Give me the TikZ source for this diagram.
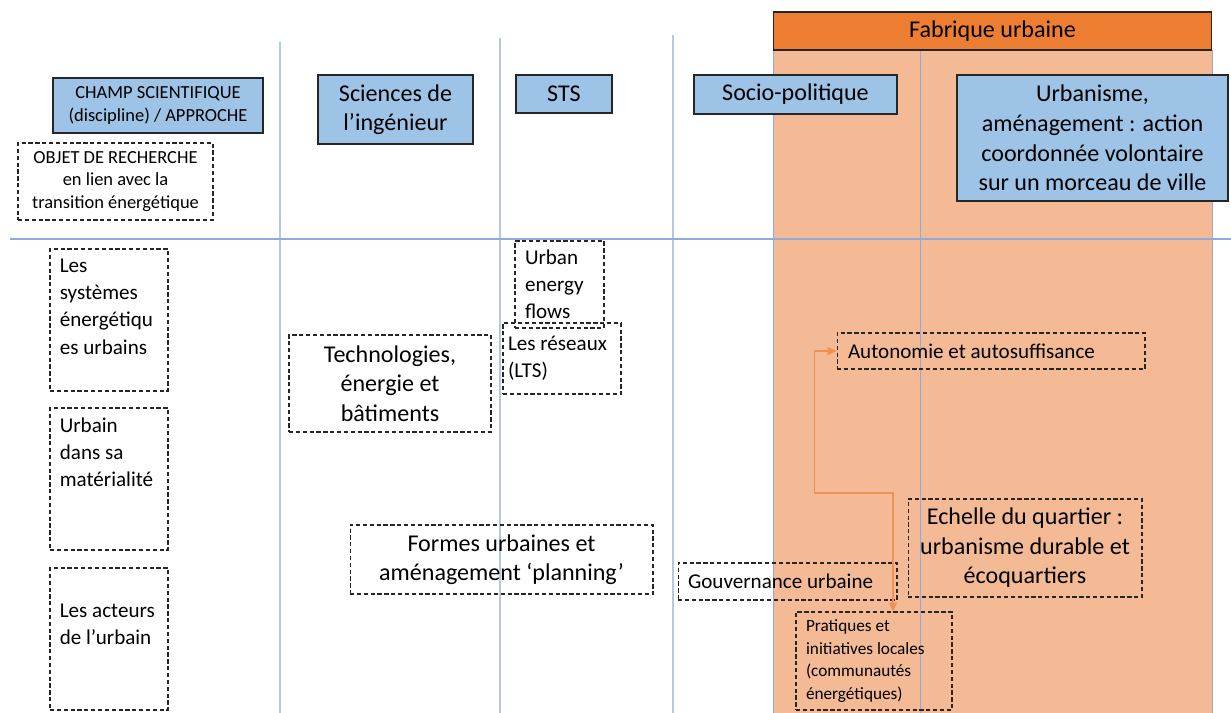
\documentclass[tikz,border=0pt]{standalone}
\usepackage{fontspec}
\setmainfont{Carlito}
\usetikzlibrary{arrows.meta}
\definecolor{bleuchamp}{RGB}{157,195,230}
\definecolor{orangefab}{RGB}{237,125,49}
\definecolor{orangeclair}{RGB}{244,186,149}
\definecolor{grille}{RGB}{143,170,220}
\definecolor{grilleclair}{RGB}{180,199,231}
\newcommand{\grand}{\fontsize{13.7}{16.8}\selectfont}
\newcommand{\moyen}{\fontsize{12}{15.5}\selectfont}
\newcommand{\petit}{\fontsize{10.5}{13}\selectfont}
\newcommand{\mini}{\fontsize{9.8}{13}\selectfont}

\begin{document}
\begin{tikzpicture}[x=0.02cm,y=-0.02cm,
    trait/.style={grilleclair,line width=0.6pt},
    champ/.style={draw=black!85,line width=0.7pt,fill=bleuchamp,inner sep=0pt,align=center,font=\grand},
    objet/.style={draw=black!85,dash pattern=on 2.4pt off 1.5pt,line width=0.6pt,inner sep=0pt},
    fleche/.style={orangefab!85,line width=0.6pt,<->,>={Triangle[length=5pt,width=4.5pt]}}]
        \useasboundingbox (0,0) rectangle (1231,713);
        \fill[orangeclair] (773,50) rectangle (1212,713);
        \draw[trait] (280,42) -- (280,713);
        \draw[trait] (500,38) -- (500,713);
        \draw[trait] (673,35) -- (673,713);
        \draw[grille,line width=0.5pt] (773,50) -- (773,713);
        \draw[grille,line width=0.5pt] (920,50) -- (920,713);
        \draw[grille,line width=0.5pt] (1212,50) -- (1212,713);
        \draw[grille,line width=0.6pt] (10,239) -- (1231,239);
        \node[draw=black!85,line width=0.6pt,fill=orangefab,inner sep=0pt,minimum width=8.78cm,minimum height=0.76cm,font=\grand] (fab) at (992.5,31) {Fabrique urbaine};

        \node[champ,minimum width=4.2cm,minimum height=1.1cm,font=\petit] (champ) at (158,105.5) {CHAMP SCIENTIFIQUE\\(discipline) / APPROCHE};
        \node[champ,minimum width=3.1cm,minimum height=1.38cm] (sci) at (395.5,109.5) {Sciences de\\l’ingénieur};
        \node[champ,minimum width=1.92cm,minimum height=0.76cm] (sts) at (564,94) {STS};
        \node[champ,minimum width=4.06cm,minimum height=0.78cm] (socio) at (795.5,94.5) {Socio-politique};
        \node[champ,minimum width=5.42cm,minimum height=2.52cm] (urba) at (1092.5,138) {Urbanisme,\\aménagement : action\\coordonnée volontaire\\sur un morceau de ville};

        \node[objet,minimum width=3.9cm,minimum height=1.54cm,align=center,font=\petit] (rech) at (115.5,181.5) {OBJET DE RECHERCHE\\en lien avec la\\transition énergétique};

        \node[objet,minimum width=2.36cm,minimum height=2.84cm] (sys) at (109,320) {};
        \node[anchor=north west,align=flush left,font=\moyen,inner sep=0pt] (sys-t) at ([xshift=0.2cm,yshift=-0.2cm]sys.north west) {Les\\systèmes\\énergétiqu\\es urbains};
        \node[objet,minimum width=2.36cm,minimum height=2.84cm] (mat) at (109,479) {};
        \node[anchor=north west,align=flush left,font=\moyen,inner sep=0pt] (mat-t) at ([xshift=0.2cm,yshift=-0.2cm]mat.north west) {Urbain\\dans sa\\matérialité};
        \node[objet,minimum width=2.36cm,minimum height=2.84cm] (act) at (109,639) {};
        \node[anchor=west,align=flush left,font=\moyen,inner sep=0pt] (act-t) at ([xshift=0.2cm,yshift=0.3cm]act.west) {Les acteurs\\de l’urbain};

        \node[objet,minimum width=4.04cm,minimum height=1.94cm,align=center,font=\grand] (techno) at (390,383.5) {Technologies,\\énergie et\\bâtiments};
        \node[objet,minimum width=1.78cm,minimum height=1.74cm,text width=1.38cm,align=flush left,font=\moyen] (flux) at (559.5,284.5) {Urban\\energy\\flows};
        \node[objet,minimum width=2.36cm,minimum height=1.42cm,text width=2.16cm,align=flush left,font=\moyen] (res) at (562,358.5) {Les réseaux\\(LTS)};
        \node[objet,minimum width=6.06cm,minimum height=1.38cm,align=center,font=\grand] (formes) at (501.5,559.5) {Formes urbaines et\\aménagement ‘planning’};
        \node[objet,minimum width=4.38cm,minimum height=0.74cm,text width=3.98cm,align=flush left,font=\moyen] (gouv) at (787.5,581.5) {Gouvernance urbaine};
        \node[objet,minimum width=6.16cm,minimum height=0.72cm,text width=5.72cm,align=flush left,font=\moyen] (auto) at (991,351) {Autonomie et autosuffisance};
        \node[objet,minimum width=4.68cm,minimum height=1.96cm,align=center,font=\grand] (echelle) at (1025,548) {Echelle du quartier :\\urbanisme durable et\\écoquartiers};
        \node[objet,minimum width=3.12cm,minimum height=1.96cm,text width=2.72cm,align=flush left,font=\mini] (prat) at (874,661) {Pratiques et\\initiatives locales\\(communautés\\énergétiques)};

        \coordinate (coude) at (893,493);
        \draw[fleche] (auto.west) -- ++(-22,0) |- (coude) -- (coude |- prat.north);
\end{tikzpicture}
\end{document}
